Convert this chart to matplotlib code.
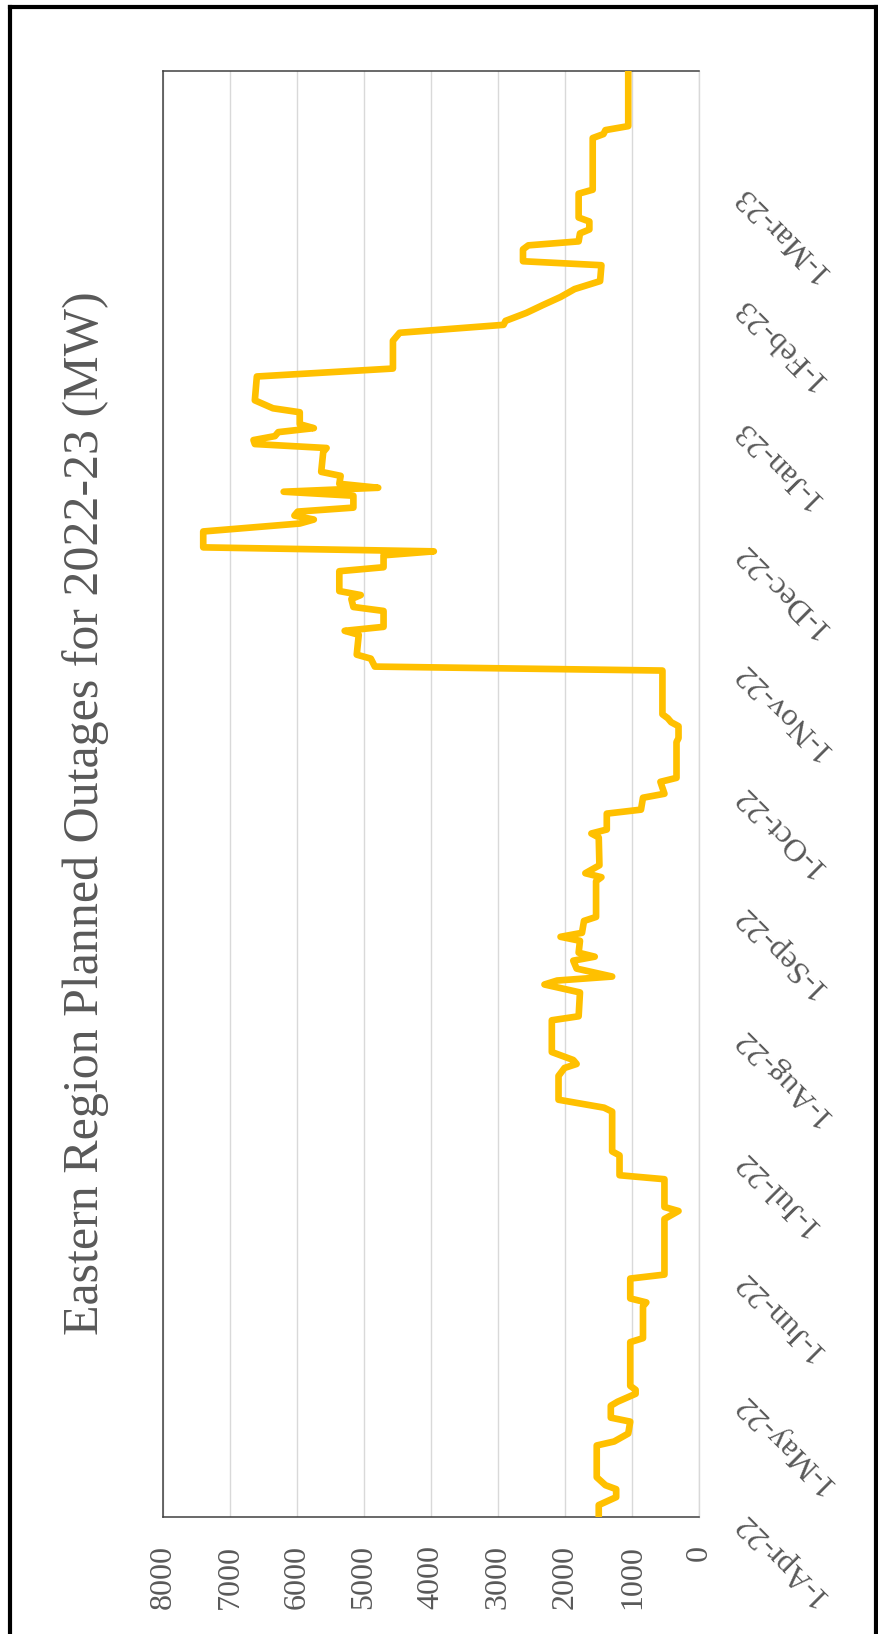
import numpy as np
import pandas as pd
import matplotlib
matplotlib.use('Agg')
import matplotlib.pyplot as plt
from matplotlib.lines import Line2D

plt.rcParams.update({
    'font.family': ['Liberation Serif', 'DejaVu Serif'],
})

TEXT_GREY = '#595959'
LINE_GOLD = '#FFC000'

# Daily planned outage (MW) - change points of the series
dates = [
    '2022-04-01', '2022-04-04', '2022-04-06', '2022-04-08', '2022-04-09', '2022-04-11',
    '2022-04-19', '2022-04-20', '2022-04-22', '2022-04-25', '2022-04-26', '2022-04-29',
    '2022-04-30', '2022-05-02', '2022-05-03', '2022-05-04', '2022-05-15', '2022-05-16',
    '2022-05-24', '2022-05-25', '2022-05-26', '2022-05-31', '2022-06-01', '2022-06-15',
    '2022-06-17', '2022-06-18', '2022-06-25', '2022-06-26', '2022-07-01', '2022-07-02',
    '2022-07-12', '2022-07-13', '2022-07-15', '2022-07-21', '2022-07-23', '2022-07-24',
    '2022-07-25', '2022-07-27', '2022-08-04', '2022-08-05', '2022-08-11', '2022-08-13',
    '2022-08-14', '2022-08-15', '2022-08-17', '2022-08-19', '2022-08-20', '2022-08-21',
    '2022-08-24', '2022-08-25', '2022-08-26', '2022-08-29', '2022-08-30', '2022-09-08',
    '2022-09-09', '2022-09-10', '2022-09-12', '2022-09-19', '2022-09-20', '2022-09-21',
    '2022-09-25', '2022-09-26', '2022-09-29', '2022-09-30', '2022-10-03', '2022-10-04',
    '2022-10-13', '2022-10-14', '2022-10-17', '2022-10-18', '2022-10-19', '2022-10-20',
    '2022-10-31', '2022-11-01', '2022-11-03', '2022-11-04', '2022-11-09', '2022-11-10',
    '2022-11-11', '2022-11-15', '2022-11-16', '2022-11-18', '2022-11-19', '2022-11-20',
    '2022-11-25', '2022-11-26', '2022-11-29', '2022-11-30', '2022-12-01', '2022-12-05',
    '2022-12-07', '2022-12-08', '2022-12-09', '2022-12-10', '2022-12-11', '2022-12-14',
    '2022-12-15', '2022-12-16', '2022-12-17', '2022-12-19', '2022-12-20', '2022-12-25',
    '2022-12-26', '2022-12-27', '2022-12-28', '2022-12-29', '2022-12-30', '2022-12-31',
    '2023-01-01', '2023-01-04', '2023-01-05', '2023-01-07', '2023-01-13', '2023-01-15',
    '2023-01-22', '2023-01-24', '2023-01-26', '2023-01-27', '2023-01-29', '2023-01-31',
    '2023-02-02', '2023-02-04', '2023-02-06', '2023-02-10', '2023-02-11', '2023-02-14',
    '2023-02-15', '2023-02-16', '2023-02-18', '2023-02-19', '2023-02-21', '2023-02-22',
    '2023-02-28', '2023-03-01', '2023-03-14', '2023-03-15', '2023-03-16', '2023-03-17',
    '2023-03-31',
]
outage_mw = [
    1500, 1500, 1240, 1240, 1400, 1530,
    1530, 1270, 1060, 1030, 1320, 1320,
    1220, 950, 950, 1030, 1030, 840,
    840, 790, 1030, 1030, 520, 520,
    310, 520, 520, 1190, 1190, 1300,
    1300, 1420, 2100, 2100, 2010, 1830,
    1880, 2200, 2200, 1800, 1780, 2310,
    2120, 1300, 1830, 1880, 1560, 1800,
    1780, 2070, 1750, 1720, 1540, 1540,
    1460, 1700, 1490, 1500, 1610, 1380,
    1380, 870, 840, 520, 580, 340,
    340, 310, 310, 420, 470, 550,
    550, 4840, 4900, 5110, 5080, 5290,
    4710, 4710, 5160, 5190, 5050, 5370,
    5370, 4710, 4710, 3960, 7400, 7400,
    5960, 5750, 6040, 5990, 5160, 5160,
    6200, 4790, 5370, 5350, 5640, 5610,
    5560, 6630, 6650, 6330, 6280, 5750,
    5960, 5960, 6360, 6630, 6600, 4570,
    4570, 4470, 2920, 2890, 2580, 2330,
    2070, 1860, 1480, 1460, 2630, 2630,
    2550, 1800, 1780, 1640, 1640, 1800,
    1800, 1590, 1590, 1430, 1400, 1060,
    1060,
]

mw_ticks = [0, 1000, 2000, 3000, 4000, 5000, 6000, 7000, 8000]
month_ticks = pd.date_range('2022-04-01', '2023-03-01', freq='MS')
month_labels = [f'{t.day}-{t:%b-%y}' for t in month_ticks]
title = 'Eastern Region Planned Outages for 2022-23 (MW)'

W, H = 879, 1634
fig = plt.figure(figsize=(W / 100, H / 100), dpi=100)

# plot box (pixels): x 163..699, y 70.5..1517 from the top
ax = fig.add_axes([163 / W, (H - 1517) / H, (699.3 - 163) / W, (1517 - 70.5) / H])

when = pd.to_datetime(dates).to_pydatetime()
ax.plot(outage_mw, when, color=LINE_GOLD, lw=4.8,
        solid_joinstyle='round', solid_capstyle='round', zorder=3)

ax.set_xlim(8000, 0)
ax.set_ylim(pd.Timestamp('2022-04-01').to_pydatetime(),
            pd.Timestamp('2023-03-31').to_pydatetime())

ax.set_xticks(mw_ticks)
ax.set_xticklabels([str(v) for v in mw_ticks])
ax.set_yticks(month_ticks.to_pydatetime())
ax.set_yticklabels(month_labels)
ax.yaxis.tick_right()

ax.tick_params(axis='both', length=0, labelsize=23, labelcolor=TEXT_GREY)
ax.tick_params(axis='x', pad=20)
ax.tick_params(axis='y', pad=28)
for lbl in ax.get_xticklabels():
    lbl.set(rotation=90, rotation_mode='anchor', ha='right', va='center')
for lbl in ax.get_yticklabels():
    lbl.set(rotation=135, rotation_mode='anchor', ha='right', va='center')

ax.grid(axis='x', color='#D9D9D9', lw=1.0)
ax.set_axisbelow(True)
for side in ['left', 'top', 'bottom']:
    ax.spines[side].set_color('#404040')
    ax.spines[side].set_linewidth(1.1)
ax.spines['right'].set_color('#D9D9D9')
ax.spines['right'].set_linewidth(1.0)

fig.text(86 / W, 1 - 813 / H, title, rotation=90, ha='center', va='center',
         fontsize=36, color=TEXT_GREY)

# outer frame (open at the bottom)
frame = dict(color='black', lw=3, transform=fig.transFigure)
fig.add_artist(Line2D([9.5 / W, 9.5 / W], [0, 1 - 6.5 / H], **frame))
fig.add_artist(Line2D([9.5 / W, 876 / W], [1 - 6.5 / H, 1 - 6.5 / H], **frame))
fig.add_artist(Line2D([876 / W, 876 / W], [0, 1 - 6.5 / H], **frame))

fig.savefig('out.png', dpi=100)
